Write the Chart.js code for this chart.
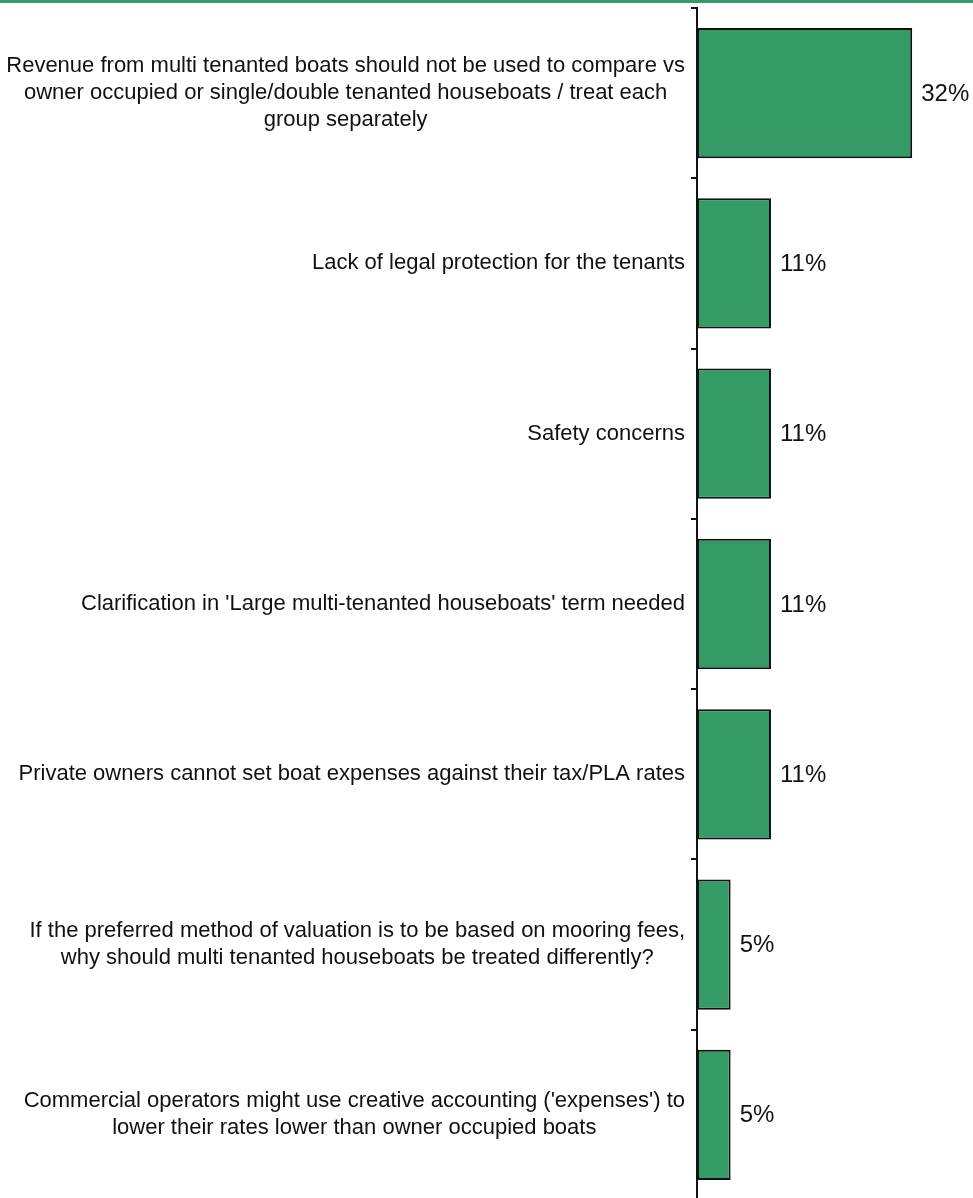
<!DOCTYPE html>
<html>
<head>
<meta charset="utf-8">
<script src="https://cdn.jsdelivr.net/npm/chart.js@4.4.0/dist/chart.umd.min.js"></script>
<style>
  html, body { margin: 0; padding: 0; background: #fff; overflow: hidden; }
  #topLine { position: absolute; left: 0; top: 0; width: 973px; height: 3px; background: #349a66; z-index: 2; }
  #wrap { position: absolute; left: 0; top: 0; }
</style>
</head>
<body>
<div id="topLine"></div>
<div id="wrap"><canvas id="chart" width="973" height="1200"></canvas></div>
<script>
// === Données ===
const categories = [
  ["Revenue from multi tenanted boats should not be used to compare vs",
   "owner occupied or single/double tenanted houseboats / treat each",
   "group separately"],
  "Lack of legal protection for the tenants",
  "Safety concerns",
  "Clarification in 'Large multi-tenanted houseboats' term needed",
  "Private owners cannot set boat expenses against their tax/PLA rates",
  ["If the preferred method of valuation is to be based on mooring fees,",
   "why should multi tenanted houseboats be treated differently?"],
  ["Commercial operators might use creative accounting ('expenses') to",
   "lower their rates lower than owner occupied boats"]
];
const percentages = [32, 11, 11, 11, 11, 5, 5];
const valueLabels = ['32%', '11%', '11%', '11%', '11%', '5%', '5%'];

const FONT = '"Liberation Sans", Arial, sans-serif';

// === Étiquettes de catégorie (centrées par bloc, alignées à droite sur l'axe) ===
const categoryLabels = {
  id: 'categoryLabels',
  afterDraw(chart) {
    const ctx = chart.ctx;
    const y = chart.scales.y;
    const right = chart.chartArea.left - 12;
    const lh = 27;
    ctx.save();
    ctx.font = '22px ' + FONT;
    ctx.fillStyle = '#111';
    ctx.textAlign = 'center';
    ctx.textBaseline = 'middle';
    categories.forEach((lab, i) => {
      const lines = Array.isArray(lab) ? lab : [lab];
      const w = Math.max(...lines.map(l => ctx.measureText(l).width));
      const cx = right - w / 2;
      const cy = y.getPixelForValue(i);
      lines.forEach((ln, j) => {
        ctx.fillText(ln, cx, cy + (j - (lines.length - 1) / 2) * lh);
      });
    });
    ctx.restore();
  }
};

// === Valeurs au bout des barres ===
const barValues = {
  id: 'barValues',
  afterDatasetsDraw(chart) {
    const ctx = chart.ctx;
    const meta = chart.getDatasetMeta(0);
    ctx.save();
    ctx.font = '24px ' + FONT;
    ctx.fillStyle = '#111';
    ctx.textAlign = 'left';
    ctx.textBaseline = 'middle';
    meta.data.forEach((bar, i) => {
      ctx.fillText(valueLabels[i], bar.x + 9, bar.y + 1);
    });
    ctx.restore();
  }
};

new Chart(document.getElementById('chart'), {
  type: 'bar',
  data: {
    labels: categories,
    datasets: [{
      data: percentages,
      backgroundColor: '#349a66',
      borderColor: '#111',
      borderWidth: 2,
      borderSkipped: false,
      categoryPercentage: 1,
      barPercentage: 0.765
    }]
  },
  options: {
    indexAxis: 'y',
    responsive: false,
    animation: false,
    devicePixelRatio: 1,
    layout: { padding: { top: 8, right: 7, bottom: 0, left: 0 } },
    plugins: { legend: { display: false }, tooltip: { enabled: false } },
    scales: {
      x: { display: false, min: 0, max: 40 },
      y: {
        afterFit: s => { s.width = 697; },
        ticks: { display: false },
        grid: { display: true, drawOnChartArea: false, drawTicks: true, tickLength: 6, color: '#111', lineWidth: 2, offset: true },
        border: { display: true, color: '#111', width: 2 }
      }
    }
  },
  plugins: [categoryLabels, barValues]
});
</script>
</body>
</html>
